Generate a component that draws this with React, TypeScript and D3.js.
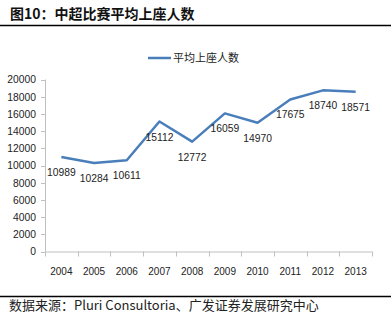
import React from "react";
import * as d3 from "d3";

const years = ["2004", "2005", "2006", "2007", "2008", "2009", "2010", "2011", "2012", "2013"];
const attendance = [10989, 10284, 10611, 15112, 12772, 16059, 14970, 17675, 18740, 18571];
const yTicks = [0, 2000, 4000, 6000, 8000, 10000, 12000, 14000, 16000, 18000, 20000];
const seriesName = "平均上座人数";
const titleText = "图10：中超比赛平均上座人数";
const sourceText = "数据来源：Pluri Consultoria、广发证券发展研究中心";

export default function App() {
  const W = 391, H = 325;
  const left = 45, right = 372, top = 79.5, bottom = 251.5;
  const x = d3.scaleBand().domain(years).range([left, right]);
  const y = d3.scaleLinear().domain([0, 20000]).range([bottom, top]);
  const line = d3
    .line<number>()
    .x((_, i) => (x(years[i]) as number) + x.bandwidth() / 2)
    .y((d) => y(d));
  const axisColor = "#bfbfbf";
  const tickFont = "'Liberation Sans', Arial, sans-serif";
  const edges = years.map((yr) => x(yr) as number).concat([right]);
  return (
    <svg
      width={W}
      height={H}
      style={{ position: "absolute", left: 0, top: 0, background: "#fff" }}
    >
      <text x={10} y={19} fontSize={14} fontWeight="bold" fill="#111" fontFamily="'Noto Sans CJK SC', sans-serif">
        {titleText}
      </text>
      <line x1={0} x2={W} y1={25.5} y2={25.5} stroke="#000" strokeWidth={1.5} />
      {/* legend */}
      <line x1={148} x2={171} y1={58} y2={58} stroke="#4a7ebb" strokeWidth={2.5} />
      <text x={173} y={62} fontSize={11} fill="#222" fontFamily="'Noto Sans CJK SC', serif">
        {seriesName}
      </text>
      {/* y axis */}
      <line x1={left + 0.5} x2={left + 0.5} y1={top} y2={bottom} stroke={axisColor} />
      {yTicks.map((t) => (
        <g key={t}>
          <line x1={left - 4} x2={left} y1={Math.round(y(t)) + 0.5} y2={Math.round(y(t)) + 0.5} stroke={axisColor} />
          <text x={36} y={y(t) + 3.8} fontSize={10.3} textAnchor="end" fill="#222" fontFamily={tickFont}>
            {t}
          </text>
        </g>
      ))}
      {/* x axis */}
      <line x1={left} x2={right} y1={bottom + 0.5} y2={bottom + 0.5} stroke={axisColor} />
      {edges.map((e, i) => (
        <line key={i} x1={Math.round(e) + 0.5} x2={Math.round(e) + 0.5} y1={bottom} y2={bottom + 5} stroke={axisColor} />
      ))}
      {years.map((yr) => (
        <text
          key={yr}
          x={(x(yr) as number) + x.bandwidth() / 2}
          y={bottom + 23.5}
          fontSize={10}
          textAnchor="middle"
          fill="#222"
          fontFamily={tickFont}
        >
          {yr}
        </text>
      ))}
      {/* series */}
      <path d={line(attendance) || ""} fill="none" stroke="#4a7ebb" strokeWidth={2.5} strokeLinejoin="round" />
      {attendance.map((v, i) => (
        <text
          key={i}
          x={(x(years[i]) as number) + x.bandwidth() / 2}
          y={y(v) + 19}
          fontSize={10.3}
          textAnchor="middle"
          fill="#222"
          fontFamily={tickFont}
        >
          {v}
        </text>
      ))}
      <line x1={0} x2={W} y1={296.5} y2={296.5} stroke="#000" strokeWidth={1.5} />
      <text x={9} y={310} fontSize={13} fill="#222" fontFamily="'Noto Sans CJK SC', sans-serif">
        {sourceText}
      </text>
    </svg>
  );
}
